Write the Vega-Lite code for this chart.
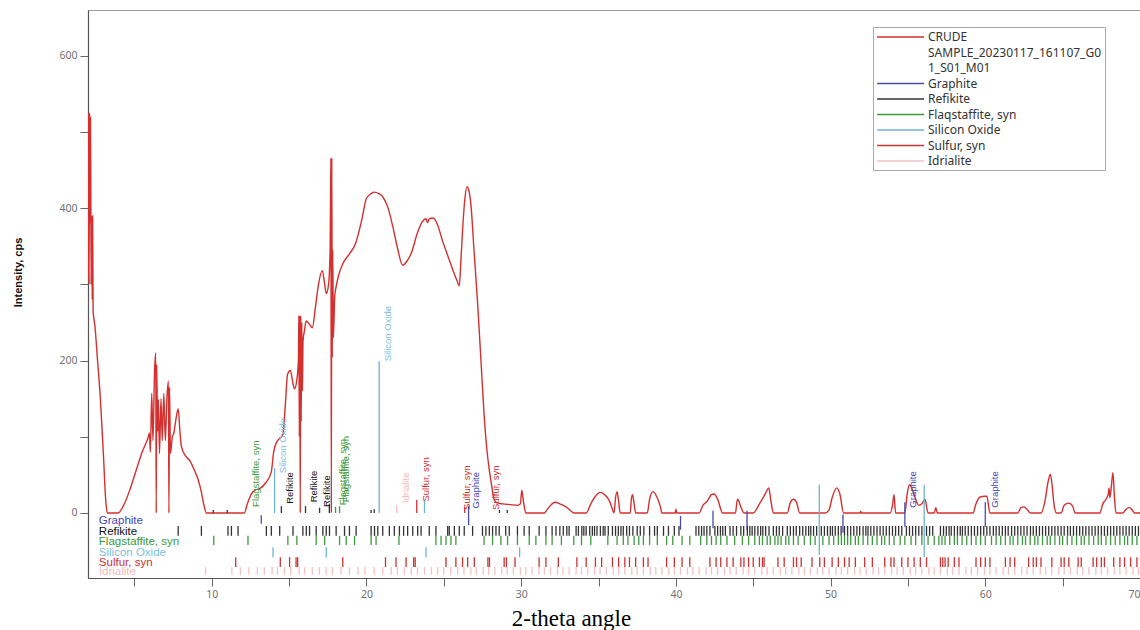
{
  "$schema": "https://vega.github.io/schema/vega-lite/v6.json",
  "width": 1052,
  "height": 568,
  "autosize": {"type": "none"},
  "padding": {"left": 88, "top": 10, "right": 0, "bottom": 52},
  "background": "white",
  "config": {
    "view": {"stroke": "#9a9a9a", "strokeWidth": 1},
    "axis": {"domainColor": "#555", "domainWidth": 1.2, "tickColor": "#666", "tickSize": 8, "labelColor": "#707070", "labelFont": "Noto Sans", "labelFontSize": 10.5, "grid": false},
    "legend": {"orient": "none", "legendX": 785, "legendY": 17, "padding": 3, "strokeColor": "#a8a8a8", "fillColor": "#ffffff", "symbolType": "M-1,0H7", "symbolSize": 138, "symbolStrokeWidth": 1.5, "labelFont": "Noto Sans", "labelFontSize": 12, "labelColor": "#333", "rowPadding": 2.5, "labelOffset": 38, "labelLimit": 300}
  },
  "datasets": {
    "curve": [
      {"t":2.0,"c":310},{"t":2.03,"c":525},{"t":2.07,"c":300},{"t":2.1,"c":525},{"t":2.13,"c":380},{"t":2.17,"c":520},{"t":2.2,"c":300},{"t":2.23,"c":390},{"t":2.27,"c":280},{"t":2.3,"c":390},{"t":2.33,"c":265},{"t":2.45,"c":245},{"t":2.6,"c":205},{"t":2.8,"c":150},{"t":3.0,"c":75},{"t":3.15,"c":15},{"t":3.25,"c":0},{"t":3.95,"c":0},{"t":4.3,"c":10},{"t":4.7,"c":30},{"t":5.1,"c":55},{"t":5.5,"c":80},{"t":5.9,"c":100},{"t":5.97,"c":105},{"t":6.03,"c":80},{"t":6.12,"c":157},{"t":6.2,"c":95},{"t":6.3,"c":185},{"t":6.38,"c":210},{"t":6.41,"c":0},{"t":6.44,"c":195},{"t":6.5,"c":107},{"t":6.55,"c":149},{"t":6.62,"c":78},{"t":6.72,"c":150},{"t":6.8,"c":95},{"t":6.9,"c":157},{"t":7.0,"c":95},{"t":7.1,"c":150},{"t":7.2,"c":173},{"t":7.23,"c":0},{"t":7.27,"c":165},{"t":7.33,"c":78},{"t":7.45,"c":100},{"t":7.55,"c":105},{"t":7.7,"c":125},{"t":7.83,"c":137},{"t":7.95,"c":105},{"t":8.04,"c":87},{"t":8.3,"c":75},{"t":8.6,"c":68},{"t":8.9,"c":55},{"t":9.1,"c":45},{"t":9.3,"c":30},{"t":9.5,"c":10},{"t":9.65,"c":0},
      {"t":12.1,"c":0},{"t":12.3,"c":12},{"t":12.56,"c":25},{"t":12.8,"c":30},{"t":13.1,"c":32},{"t":13.5,"c":40},{"t":13.85,"c":54},{"t":14.0,"c":80},{"t":14.17,"c":92},{"t":14.4,"c":98},{"t":14.6,"c":103},{"t":14.75,"c":140},{"t":14.9,"c":182},{"t":15.08,"c":187},{"t":15.25,"c":170},{"t":15.35,"c":163},{"t":15.5,"c":175},{"t":15.6,"c":200},{"t":15.63,"c":259},{"t":15.66,"c":100},{"t":15.69,"c":259},{"t":15.72,"c":0},{"t":15.75,"c":259},{"t":15.78,"c":120},{"t":15.82,"c":250},{"t":15.86,"c":160},{"t":15.9,"c":226},{"t":16.0,"c":240},{"t":16.1,"c":252},{"t":16.3,"c":248},{"t":16.5,"c":243},{"t":16.7,"c":270},{"t":16.9,"c":300},{"t":17.14,"c":318},{"t":17.3,"c":300},{"t":17.4,"c":288},{"t":17.55,"c":300},{"t":17.65,"c":345},{"t":17.7,"c":466},{"t":17.73,"c":0},{"t":17.76,"c":466},{"t":17.79,"c":204},{"t":17.82,"c":345},{"t":17.86,"c":230},{"t":17.95,"c":285},{"t":18.05,"c":298},{"t":18.2,"c":312},{"t":18.47,"c":327},{"t":18.9,"c":340},{"t":19.3,"c":354},{"t":19.7,"c":385},{"t":20.0,"c":413},{"t":20.3,"c":419},{"t":20.5,"c":421},{"t":20.8,"c":419},{"t":21.05,"c":415},{"t":21.4,"c":400},{"t":21.7,"c":376},{"t":22.0,"c":348},{"t":22.34,"c":325},{"t":22.6,"c":330},{"t":22.9,"c":341},{"t":23.3,"c":368},{"t":23.6,"c":382},{"t":23.85,"c":386},{"t":23.95,"c":381},{"t":24.05,"c":386},{"t":24.3,"c":387},{"t":24.6,"c":378},{"t":24.9,"c":358},{"t":25.3,"c":335},{"t":25.6,"c":318},{"t":25.85,"c":305},{"t":26.0,"c":298},{"t":26.1,"c":330},{"t":26.2,"c":367},{"t":26.35,"c":410},{"t":26.5,"c":428},{"t":26.65,"c":420},{"t":26.75,"c":405},{"t":26.95,"c":345},{"t":27.2,"c":270},{"t":27.4,"c":200},{"t":27.6,"c":130},{"t":27.8,"c":80},{"t":27.95,"c":55},{"t":28.1,"c":35},{"t":28.26,"c":17},{"t":28.5,"c":13},{"t":28.8,"c":12},{"t":29.3,"c":11},{"t":29.76,"c":10},{"t":29.95,"c":12},{"t":30.04,"c":30},{"t":30.15,"c":15},{"t":30.3,"c":0},
      {"t":31.5,"c":0},{"t":31.7,"c":5},{"t":31.9,"c":10},{"t":32.2,"c":14},{"t":32.5,"c":12},{"t":32.9,"c":8},{"t":33.2,"c":3},{"t":33.4,"c":0},{"t":34.2,"c":0},{"t":34.5,"c":12},{"t":34.8,"c":22},{"t":35.1,"c":27},{"t":35.4,"c":24},{"t":35.7,"c":16},{"t":35.85,"c":8},{"t":36.0,"c":0},{"t":36.1,"c":20},{"t":36.2,"c":28},{"t":36.3,"c":15},{"t":36.4,"c":0},{"t":37.05,"c":0},{"t":37.12,"c":18},{"t":37.2,"c":24},{"t":37.3,"c":12},{"t":37.4,"c":0},{"t":38.15,"c":0},{"t":38.3,"c":18},{"t":38.5,"c":28},{"t":38.75,"c":22},{"t":39.0,"c":8},{"t":39.1,"c":0},{"t":39.95,"c":0},{"t":40.0,"c":5},{"t":40.05,"c":0},{"t":41.5,"c":0},{"t":41.75,"c":10},{"t":42.0,"c":15},{"t":42.1,"c":18},{"t":42.3,"c":24},{"t":42.45,"c":25},{"t":42.7,"c":18},{"t":42.9,"c":5},{"t":43.0,"c":0},{"t":43.85,"c":0},{"t":43.95,"c":15},{"t":44.0,"c":18},{"t":44.2,"c":8},{"t":44.4,"c":0},{"t":45.0,"c":0},{"t":45.4,"c":12},{"t":45.8,"c":26},{"t":46.0,"c":33},{"t":46.15,"c":15},{"t":46.3,"c":0},{"t":47.2,"c":0},{"t":47.4,"c":14},{"t":47.6,"c":18},{"t":47.8,"c":14},{"t":48.0,"c":0},{"t":49.65,"c":0},{"t":49.9,"c":4},{"t":50.1,"c":20},{"t":50.4,"c":33},{"t":50.6,"c":25},{"t":50.84,"c":0},{"t":51.9,"c":0},{"t":51.95,"c":2},{"t":52.0,"c":0},{"t":53.85,"c":0},{"t":54.0,"c":10},{"t":54.1,"c":24},{"t":54.2,"c":0},{"t":54.8,"c":0},{"t":54.95,"c":25},{"t":55.1,"c":37},{"t":55.3,"c":30},{"t":55.55,"c":15},{"t":55.7,"c":10},{"t":55.9,"c":12},{"t":56.1,"c":18},{"t":56.3,"c":0},{"t":56.7,"c":0},{"t":56.8,"c":7},{"t":56.9,"c":0},{"t":59.2,"c":0},{"t":59.4,"c":12},{"t":59.66,"c":21},{"t":60.0,"c":22},{"t":60.1,"c":22},{"t":60.3,"c":0},{"t":62.1,"c":0},{"t":62.3,"c":7},{"t":62.45,"c":8},{"t":62.7,"c":5},{"t":62.9,"c":0},{"t":63.6,"c":0},{"t":63.85,"c":15},{"t":64.05,"c":40},{"t":64.2,"c":51},{"t":64.3,"c":40},{"t":64.45,"c":10},{"t":64.6,"c":0},{"t":64.9,"c":0},{"t":65.1,"c":10},{"t":65.4,"c":13},{"t":65.65,"c":9},{"t":65.8,"c":0},{"t":67.4,"c":0},{"t":67.6,"c":12},{"t":67.8,"c":18},{"t":67.95,"c":25},{"t":68.0,"c":33},{"t":68.05,"c":20},{"t":68.15,"c":35},{"t":68.25,"c":53},{"t":68.35,"c":20},{"t":68.45,"c":0},{"t":68.9,"c":0},{"t":69.1,"c":5},{"t":69.3,"c":7},{"t":69.5,"c":4},{"t":69.65,"c":0},{"t":70.0,"c":0}
    ],
    "refl": [
      {"t":14.06,"lo":0,"hi":59,"ph":"Silicon Oxide"},
      {"t":14.5,"lo":0,"hi":9,"ph":"Refikite"},
      {"t":16.06,"lo":0,"hi":9,"ph":"Refikite"},
      {"t":16.97,"lo":0,"hi":7,"ph":"Refikite"},
      {"t":17.6,"lo":0,"hi":12,"ph":"Refikite"},
      {"t":18.0,"lo":0,"hi":8,"ph":"Flaqstaffite, syn"},
      {"t":18.26,"lo":0,"hi":9,"ph":"Flaqstaffite, syn"},
      {"t":20.3,"lo":0,"hi":4,"ph":"Refikite"},
      {"t":20.5,"lo":0,"hi":5,"ph":"Refikite"},
      {"t":20.82,"lo":0,"hi":199,"ph":"Silicon Oxide"},
      {"t":21.95,"lo":0,"hi":10,"ph":"Idrialite"},
      {"t":23.25,"lo":0,"hi":17,"ph":"Sulfur, syn"},
      {"t":23.75,"lo":0,"hi":17,"ph":"Silicon Oxide"},
      {"t":26.35,"lo":0,"hi":8,"ph":"Sulfur, syn"},
      {"t":26.6,"lo":-16,"hi":9,"ph":"Graphite"},
      {"t":28.6,"lo":0,"hi":4,"ph":"Refikite"},
      {"t":29.1,"lo":0,"hi":4,"ph":"Refikite"},
      {"t":10.1,"lo":0,"hi":4,"ph":"Refikite"},
      {"t":11.0,"lo":0,"hi":4,"ph":"Refikite"},
      {"t":40.3,"lo":-22,"hi":-4,"ph":"Graphite"},
      {"t":42.4,"lo":-20,"hi":3,"ph":"Graphite"},
      {"t":44.6,"lo":-22,"hi":3,"ph":"Graphite"},
      {"t":50.8,"lo":-26,"hi":-2,"ph":"Graphite"},
      {"t":54.8,"lo":-18,"hi":14,"ph":"Graphite"},
      {"t":60.0,"lo":-18,"hi":14,"ph":"Graphite"},
      {"t":49.27,"lo":-55,"hi":37,"ph":"Silicon Oxide"},
      {"t":56.05,"lo":-58,"hi":37,"ph":"Silicon Oxide"}
    ],
    "gra": [{"t":13.2}],
    "ref": [
      {"t":7.83},{"t":9.33},{"t":11.05},{"t":11.27},{"t":11.7},{"t":13.53},{"t":13.85},{"t":14.39},{"t":15.25},{"t":15.89},{"t":16.11},{"t":16.32},{"t":16.75},{"t":17.18},{"t":17.4},{"t":17.61},{"t":18.04},{"t":18.58},{"t":18.9},{"t":19.33},{"t":20.3},{"t":20.52},{"t":20.73},{"t":21.05},{"t":21.48},{"t":21.8},{"t":22.13},{"t":22.4},{"t":22.66},{"t":22.99},{"t":23.31},{"t":23.53},{"t":24.06},{"t":24.49},{"t":25.25},{"t":25.35},{"t":25.68},{"t":26.0},{"t":26.32},{"t":26.86},{"t":27.5},{"t":27.72},{"t":27.94},{"t":28.15},{"t":28.37},{"t":28.58},{"t":29.0},{"t":29.23},{"t":29.76},{"t":30.19},{"t":30.52},{"t":31.16},{"t":31.6},{"t":32.0},
      {"t":32.25},{"t":32.5},{"t":32.72},{"t":32.95},{"t":33.1},{"t":33.55},{"t":33.7},{"t":33.92},{"t":34.05},{"t":34.2},{"t":34.43},{"t":34.6},{"t":34.74},{"t":34.9},{"t":35.12},{"t":35.3},{"t":35.42},{"t":35.63},{"t":35.9},{"t":36.1},{"t":36.28},{"t":36.45},{"t":36.6},{"t":36.82},{"t":37.0},{"t":37.22},{"t":37.5},{"t":37.7},{"t":37.93},{"t":38.3},{"t":38.62},{"t":38.8},{"t":39.2},{"t":39.52},{"t":39.9},{"t":40.2},{"t":41.3},{"t":41.48},{"t":41.66},{"t":41.82},{"t":42.0},{"t":42.2},{"t":42.52},{"t":42.7},{"t":42.88},{"t":43.03},{"t":43.2},{"t":43.5},{"t":43.7},{"t":43.92},{"t":44.2},{"t":44.38},{"t":44.62},{"t":44.78},{"t":44.93},{"t":45.1},{"t":45.3},{"t":45.48},{"t":45.62},{"t":45.8},{"t":46.02},{"t":46.3},{"t":46.5},{"t":46.68},{"t":46.9},{"t":47.2},{"t":47.4},{"t":47.6},{"t":47.78},{"t":48.0},{"t":48.2},{"t":48.4},{"t":48.58},{"t":48.72},{"t":48.9},{"t":49.1},{"t":49.4},{"t":49.6},{"t":49.8},{"t":49.98},{"t":50.12},{"t":50.3},{"t":50.5},{"t":50.68},{"t":50.9},{"t":51.1},{"t":51.3},{"t":51.5},{"t":51.7},{"t":51.88},{"t":52.1},{"t":52.28},{"t":52.42},{"t":52.6},{"t":52.8},{"t":53.0},{"t":53.2},{"t":53.4},{"t":53.6},{"t":53.8},{"t":54.0},{"t":54.2},{"t":54.4},{"t":54.6},{"t":54.9},{"t":55.1},{"t":55.3},{"t":55.5},{"t":55.7},{"t":55.9},{"t":56.2},{"t":56.4},{"t":56.6},{"t":57.1},{"t":57.3},{"t":57.48},{"t":57.66},{"t":57.8},{"t":58.0},{"t":58.2},{"t":58.38},{"t":58.52},{"t":58.7},{"t":58.9},{"t":59.1},{"t":59.3},{"t":59.5},{"t":59.7},{"t":59.9},{"t":60.1},{"t":60.3},{"t":60.52},{"t":60.7},{"t":60.9},{"t":61.1},{"t":61.3},{"t":61.48},{"t":61.7},{"t":61.9},{"t":62.1},{"t":62.3},{"t":62.5},{"t":62.7},{"t":62.92},{"t":63.1},{"t":63.3},{"t":63.5},{"t":63.7},{"t":63.9},{"t":64.1},{"t":64.3},{"t":64.5},{"t":64.7},{"t":64.9},{"t":65.1},{"t":65.32},{"t":65.5},{"t":65.7},{"t":65.9},{"t":66.1},{"t":66.3},{"t":66.5},{"t":66.7},{"t":66.9},{"t":67.1},{"t":67.3},{"t":67.5},{"t":67.7},{"t":67.9},{"t":68.1},{"t":68.3},{"t":68.5},{"t":68.7},{"t":68.9},{"t":69.1},{"t":69.3},{"t":69.5},{"t":69.7},{"t":69.9}
    ],
    "fla": [
      {"t":10.13},{"t":12.34},{"t":14.92},{"t":15.5},{"t":16.75},{"t":17.3},{"t":18.26},{"t":18.69},{"t":19.23},{"t":20.3},{"t":20.62},{"t":22.1},{"t":24.49},{"t":24.82},{"t":25.14},{"t":25.46},{"t":25.78},{"t":27.6},{"t":28.15},{"t":28.69},{"t":29.12},{"t":29.76},{"t":30.52},{"t":30.95},{"t":31.6},{"t":32.0},
      {"t":32.6},{"t":33.4},{"t":33.9},{"t":34.5},{"t":35.6},{"t":36.2},{"t":36.6},{"t":36.9},{"t":37.3},{"t":37.6},{"t":37.9},{"t":38.3},{"t":38.8},{"t":39.4},{"t":39.8},{"t":40.4},{"t":40.9},{"t":41.6},{"t":42.0},{"t":42.3},{"t":42.6},{"t":42.9},{"t":43.3},{"t":43.8},{"t":44.3},{"t":44.7},{"t":45.1},{"t":45.4},{"t":45.6},{"t":45.9},{"t":46.1},{"t":46.4},{"t":46.6},{"t":46.8},{"t":47.1},{"t":47.3},{"t":47.6},{"t":47.9},{"t":48.3},{"t":48.7},{"t":49.0},{"t":49.5},{"t":49.9},{"t":50.2},{"t":50.5},{"t":50.7},{"t":50.9},{"t":51.1},{"t":51.3},{"t":51.6},{"t":51.8},{"t":52.1},{"t":52.4},{"t":52.7},{"t":53.0},{"t":53.3},{"t":53.5},{"t":53.8},{"t":54.1},{"t":54.5},{"t":54.8},{"t":55.2},{"t":55.5},{"t":55.9},{"t":56.3},{"t":56.7},{"t":57.0},{"t":57.2},{"t":57.4},{"t":57.7},{"t":58.0},{"t":58.2},{"t":58.5},{"t":58.8},{"t":59.1},{"t":59.4},{"t":59.7},{"t":60.0},{"t":60.4},{"t":60.7},{"t":61.0},{"t":61.3},{"t":61.6},{"t":61.8},{"t":62.1},{"t":62.4},{"t":62.6},{"t":62.9},{"t":63.2},{"t":63.4},{"t":63.7},{"t":64.0},{"t":64.2},{"t":64.5},{"t":64.8},{"t":65.0},{"t":65.3},{"t":65.6},{"t":65.9},{"t":66.2},{"t":66.4},{"t":66.7},{"t":67.0},{"t":67.3},{"t":67.5},{"t":67.8},{"t":68.1},{"t":68.4},{"t":68.7},{"t":69.0},{"t":69.2},{"t":69.5},{"t":69.8}
    ],
    "sio": [{"t":13.96},{"t":17.4},{"t":23.85},{"t":29.9}],
    "sul": [
      {"t":11.55},{"t":14.43},{"t":15.03},{"t":15.45},{"t":15.55},{"t":18.47},{"t":21.23},{"t":21.91},{"t":22.56},{"t":23.05},{"t":23.15},{"t":25.14},{"t":25.78},{"t":26.21},{"t":26.54},{"t":26.97},{"t":27.85},{"t":27.95},{"t":28.9},{"t":29.05},{"t":29.6},{"t":31.16},{"t":31.6},
      {"t":32.4},{"t":33.6},{"t":34.2},{"t":34.8},{"t":35.2},{"t":35.9},{"t":36.3},{"t":36.7},{"t":37.0},{"t":37.4},{"t":37.9},{"t":38.2},{"t":39.4},{"t":39.9},{"t":40.4},{"t":40.9},{"t":42.2},{"t":42.6},{"t":42.9},{"t":43.3},{"t":43.7},{"t":44.2},{"t":44.4},{"t":44.7},{"t":45.0},{"t":45.4},{"t":45.6},{"t":45.7},{"t":46.6},{"t":47.0},{"t":47.6},{"t":47.8},{"t":48.1},{"t":48.8},{"t":49.3},{"t":49.6},{"t":50.1},{"t":50.5},{"t":50.9},{"t":51.2},{"t":51.6},{"t":52.2},{"t":52.7},{"t":53.5},{"t":53.9},{"t":54.1},{"t":54.6},{"t":55.0},{"t":55.4},{"t":55.8},{"t":56.2},{"t":57.1},{"t":57.25},{"t":57.4},{"t":57.6},{"t":58.0},{"t":58.3},{"t":59.4},{"t":59.7},{"t":60.0},{"t":60.3},{"t":61.3},{"t":61.6},{"t":61.9},{"t":62.8},{"t":63.1},{"t":63.3},{"t":63.6},{"t":64.3},{"t":64.9},{"t":65.1},{"t":65.4},{"t":66.0},{"t":66.2},{"t":66.97},{"t":67.2},{"t":67.5},{"t":67.7},{"t":68.3},{"t":68.7},{"t":69.0},{"t":69.4},{"t":69.8}
    ],
    "idr": [
      {"t":9.6},{"t":11.3},{"t":11.85},{"t":12.4},{"t":12.95},{"t":13.4},{"t":13.9},{"t":14.25},{"t":14.7},{"t":15.1},{"t":15.65},{"t":16.0},{"t":16.5},{"t":16.95},{"t":17.4},{"t":17.8},{"t":18.35},{"t":18.9},{"t":19.45},{"t":19.9},{"t":20.5},{"t":21.05},{"t":21.6},{"t":22.0},{"t":22.45},{"t":22.9},{"t":23.3},{"t":23.75},{"t":24.2},{"t":24.6},{"t":25.0},{"t":25.45},{"t":25.9},{"t":26.3},{"t":26.75},{"t":27.1},{"t":27.55},{"t":27.9},{"t":28.3},{"t":28.75},{"t":29.1},{"t":29.5},{"t":29.95},{"t":30.3},{"t":30.7},{"t":31.15},{"t":31.5},{"t":31.9},{"t":32.35},{"t":32.7},{"t":33.1},{"t":33.55},{"t":33.9},{"t":34.3},{"t":34.75},{"t":35.1},{"t":35.5},{"t":35.95},{"t":36.3},{"t":36.7},{"t":37.15},{"t":37.5},{"t":37.9},{"t":38.35},{"t":38.7},{"t":39.1},{"t":39.55},{"t":39.9},{"t":40.3},{"t":40.75},{"t":41.1},{"t":41.5},{"t":41.95},{"t":42.3},{"t":42.7},{"t":43.15},{"t":43.5},{"t":43.9},{"t":44.35},{"t":44.7},{"t":45.1},{"t":45.55},{"t":45.9},{"t":46.3},{"t":46.75},{"t":47.1},{"t":47.5},{"t":47.95},{"t":48.3},{"t":48.7},{"t":49.15},{"t":49.5},{"t":49.9},{"t":50.35},{"t":50.7},{"t":51.1},{"t":51.55},{"t":51.9},{"t":52.3},{"t":52.75},{"t":53.1},{"t":53.5},{"t":53.95},{"t":54.3},{"t":54.7},{"t":55.15},{"t":55.5},{"t":55.9},{"t":56.35},{"t":56.7},{"t":57.1},{"t":57.55},{"t":57.9},{"t":58.3},{"t":58.75},{"t":59.1},{"t":59.5},{"t":59.95},{"t":60.3},{"t":60.7},{"t":61.15},{"t":61.5},{"t":61.9},{"t":62.35},{"t":62.7},{"t":63.1},{"t":63.55},{"t":63.9},{"t":64.3},{"t":64.75},{"t":65.1},{"t":65.5},{"t":65.95},{"t":66.3},{"t":66.7},{"t":67.15},{"t":67.5},{"t":67.9},{"t":68.35},{"t":68.7},{"t":69.1},{"t":69.55},{"t":69.9}
    ],
    "plab": [
      {"t":12.88,"v":8,"txt":"Flagstaffite, syn","k":"Flag"},
      {"t":14.6,"v":52,"txt":"Silicon Oxide","k":"SiO"},
      {"t":15.03,"v":12,"txt":"Refikite","k":"Refikite"},
      {"t":16.58,"v":14,"txt":"Refikite","k":"Refikite"},
      {"t":17.44,"v":8,"txt":"Refikite","k":"Refikite"},
      {"t":18.47,"v":10,"txt":"Flagstaffite, syn","k":"Flag"},
      {"t":18.7,"v":14,"txt":"Flagstaffite, syn","k":"Flag"},
      {"t":21.37,"v":199,"txt":"Silicon Oxide","k":"SiO"},
      {"t":22.56,"v":13,"txt":"Idrialite","k":"Idrialite"},
      {"t":23.85,"v":15,"txt":"Sulfur, syn","k":"Sulfur"},
      {"t":26.47,"v":4,"txt":"Sulfur, syn","k":"Sulfur"},
      {"t":27.08,"v":6,"txt":"Graphite","k":"Graphite"},
      {"t":28.37,"v":4,"txt":"Sulfur, syn","k":"Sulfur"},
      {"t":55.35,"v":7,"txt":"Graphite","k":"Graphite"},
      {"t":60.63,"v":7,"txt":"Graphite","k":"Graphite"}
    ],
    "rlab": [
      {"txt":"Graphite","v":-10,"k":"Graphite"},
      {"txt":"Refikite","v":-25,"k":"Refikite"},
      {"txt":"Flagstaffite, syn","v":-38,"k":"Flag"},
      {"txt":"Silicon Oxide","v":-52,"k":"SiO"},
      {"txt":"Sulfur, syn","v":-65,"k":"Sulfur"},
      {"txt":"Idrialite","v":-78,"k":"Idrialite"}
    ]
  },
  "layer": [
    {
      "data": {"name": "curve"},
      "mark": {"type": "line", "strokeWidth": 1.4, "interpolate": "monotone", "clip": true},
      "encoding": {
        "x": {"field": "t", "type": "quantitative", "scale": {"domain": [2, 70], "nice": false, "zero": false},
          "axis": {"values": [5,10,15,20,25,30,35,40,45,50,55,60,65,70], "labelExpr": "datum.value % 10 == 0 ? datum.label : ''", "labelFlush": true, "labelPadding": 3, "title": "2-theta angle", "titleFont": "Liberation Serif", "titleFontSize": 23, "titleFontWeight": "normal", "titleColor": "#000", "titleX": 483, "titleY": 47, "titleAlign": "center", "titleBaseline": "alphabetic"}},
        "y": {"field": "c", "type": "quantitative", "scale": {"domain": [-85.3, 660], "nice": false, "zero": false},
          "axis": {"values": [0,100,200,300,400,500,600], "labelExpr": "datum.value % 200 == 0 ? datum.label : ''", "labelPadding": 3, "title": "Intensity, cps", "titleFont": "Liberation Sans", "titleFontSize": 11, "titleFontWeight": "bold", "titleColor": "#111", "titleX": -70, "titleY": 262, "titleAngle": 270, "titleAlign": "center", "titleBaseline": "middle"}},
        "color": {"datum": "CRUDE", "type": "nominal",
          "scale": {"domain": ["CRUDE", "SAMPLE_20230117_161107_G0", "1_S01_M01", "Graphite", "Refikite", "Flaqstaffite, syn", "Silicon Oxide", "Sulfur, syn", "Idrialite"],
                    "range": ["#d3302f", "rgba(0,0,0,0)", "rgba(0,0,0,0)", "#4b4ba8", "#333333", "#3f9a3f", "#6cb4d0", "#cc3333", "#f2c2c2"]},
          "legend": {"title": null}}
      }
    },
    {
      "mark": {"type": "rule", "color": "#8a8a8a", "strokeWidth": 1.2},
      "encoding": {"y": {"datum": 0, "type": "quantitative"}}
    },
    {
      "data": {"name": "refl"},
      "mark": {"type": "rule", "strokeWidth": 1.3},
      "encoding": {
        "x": {"field": "t", "type": "quantitative"},
        "y": {"field": "lo", "type": "quantitative"},
        "y2": {"field": "hi"},
        "color": {"field": "ph", "type": "nominal", "legend": {"title": null}}
      }
    },
    {
      "data": {"name": "gra"},
      "mark": {"type": "rule", "strokeWidth": 1.3},
      "encoding": {"x": {"field": "t", "type": "quantitative"}, "y": {"datum": -3, "type": "quantitative"}, "y2": {"datum": -14}, "color": {"datum": "Graphite", "type": "nominal", "legend": {"title": null}}}
    },
    {
      "data": {"name": "ref"},
      "mark": {"type": "rule", "strokeWidth": 1.3},
      "encoding": {"x": {"field": "t", "type": "quantitative"}, "y": {"datum": -17, "type": "quantitative"}, "y2": {"datum": -30}, "color": {"datum": "Refikite", "type": "nominal", "legend": {"title": null}}}
    },
    {
      "data": {"name": "fla"},
      "mark": {"type": "rule", "strokeWidth": 1.3},
      "encoding": {"x": {"field": "t", "type": "quantitative"}, "y": {"datum": -30, "type": "quantitative"}, "y2": {"datum": -42}, "color": {"datum": "Flaqstaffite, syn", "type": "nominal", "legend": {"title": null}}}
    },
    {
      "data": {"name": "sio"},
      "mark": {"type": "rule", "strokeWidth": 1.3},
      "encoding": {"x": {"field": "t", "type": "quantitative"}, "y": {"datum": -45, "type": "quantitative"}, "y2": {"datum": -58}, "color": {"datum": "Silicon Oxide", "type": "nominal", "legend": {"title": null}}}
    },
    {
      "data": {"name": "sul"},
      "mark": {"type": "rule", "strokeWidth": 1.3},
      "encoding": {"x": {"field": "t", "type": "quantitative"}, "y": {"datum": -58, "type": "quantitative"}, "y2": {"datum": -71}, "color": {"datum": "Sulfur, syn", "type": "nominal", "legend": {"title": null}}}
    },
    {
      "data": {"name": "idr"},
      "mark": {"type": "rule", "strokeWidth": 1.3},
      "encoding": {"x": {"field": "t", "type": "quantitative"}, "y": {"datum": -71, "type": "quantitative"}, "y2": {"datum": -81}, "color": {"datum": "Idrialite", "type": "nominal", "legend": {"title": null}}}
    },
    {
      "data": {"name": "plab"},
      "mark": {"type": "text", "angle": 270, "align": "left", "baseline": "middle", "font": "Liberation Sans", "fontSize": 9.5},
      "encoding": {
        "x": {"field": "t", "type": "quantitative"},
        "y": {"field": "v", "type": "quantitative"},
        "text": {"field": "txt"},
        "fill": {"field": "k", "type": "nominal", "legend": null,
          "scale": {"domain": ["Graphite", "Refikite", "Flag", "SiO", "Sulfur", "Idrialite"], "range": ["#4545b5", "#111111", "#3a9a3a", "#7cc0dc", "#cc3030", "#f0bcbc"]}}
      }
    },
    {
      "data": {"name": "rlab"},
      "mark": {"type": "text", "align": "left", "baseline": "middle", "font": "Liberation Sans", "fontSize": 11.5},
      "encoding": {
        "x": {"datum": 2.7, "type": "quantitative"},
        "y": {"field": "v", "type": "quantitative"},
        "text": {"field": "txt"},
        "fill": {"field": "k", "type": "nominal", "legend": null}
      }
    }
  ]
}
